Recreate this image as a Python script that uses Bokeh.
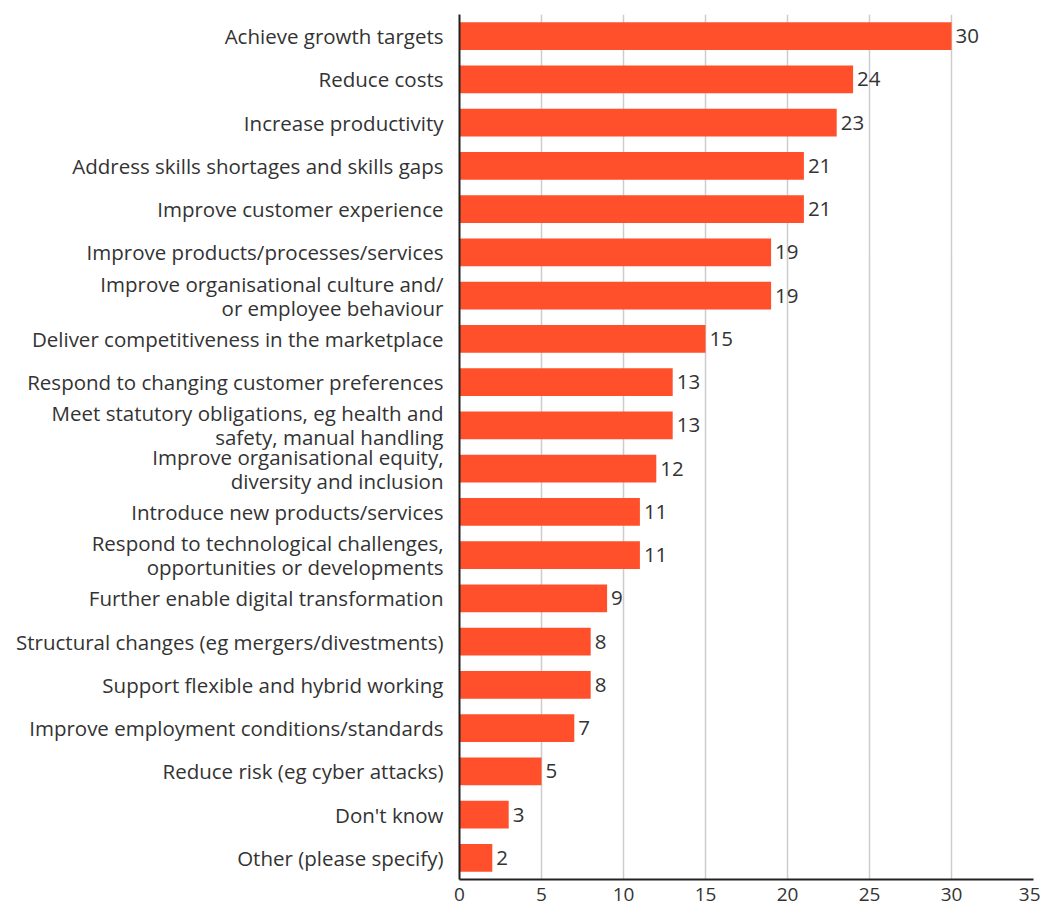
from bokeh.plotting import figure
from bokeh.models import FactorRange, ColumnDataSource, Range1d, FixedTicker
from bokeh.core.properties import value
from bokeh.embed import file_html
from bokeh.resources import INLINE

categories = [
    "Achieve growth targets",
    "Reduce costs",
    "Increase productivity",
    "Address skills shortages and skills gaps",
    "Improve customer experience",
    "Improve products/processes/services",
    "Improve organisational culture and/\nor employee behaviour",
    "Deliver competitiveness in the marketplace",
    "Respond to changing customer preferences",
    "Meet statutory obligations, eg health and\nsafety, manual handling",
    "Improve organisational equity,\ndiversity and inclusion",
    "Introduce new products/services",
    "Respond to technological challenges,\nopportunities or developments",
    "Further enable digital transformation",
    "Structural changes (eg mergers/divestments)",
    "Support flexible and hybrid working",
    "Improve employment conditions/standards",
    "Reduce risk (eg cyber attacks)",
    "Don't know",
    "Other (please specify)",
]
values = [30, 24, 23, 21, 21, 19, 19, 15, 13, 13, 12, 11, 11, 9, 8, 8, 7, 5, 3, 2]
x_ticks = [0, 5, 10, 15, 20, 25, 30, 35]

FONT = "Open Sans"
TEXT = "#333333"
BAR = "#FF4F2B"
FS = "20.5px"

src = ColumnDataSource(dict(cat=categories, val=values, lab=[str(v) for v in values]))

p = figure(
    width=1040, height=911,
    y_range=FactorRange(factors=list(reversed(categories))),
    x_range=Range1d(0, 35),
    output_backend="svg", toolbar_location=None,
    min_border_left=459, min_border_right=7, min_border_top=14, min_border_bottom=32,
)
p.outline_line_color = None
p.background_fill_color = "white"

p.hbar(y="cat", right="val", left=0, height=0.64, source=src, color=BAR, line_color=None)
p.text(x="val", y="cat", text="lab", source=src, x_offset=4, text_baseline="middle",
       text_align="left", text_font=value(FONT), text_font_size=FS, text_color=TEXT)

p.xaxis.ticker = FixedTicker(ticks=x_ticks)
p.xaxis.major_tick_line_color = None
p.xaxis.minor_tick_line_color = None
p.xaxis.axis_line_color = "#222222"
p.xaxis.axis_line_width = 2
p.xaxis.major_label_text_font = FONT
p.xaxis.major_label_text_font_size = "19px"
p.xaxis.major_label_text_color = TEXT
p.xaxis.major_label_standoff = 2

p.yaxis.major_tick_line_color = None
p.yaxis.minor_tick_line_color = None
p.yaxis.axis_line_color = "#222222"
p.yaxis.axis_line_width = 2
p.yaxis.major_label_text_font = FONT
p.yaxis.major_label_text_font_size = FS
p.yaxis.major_label_text_color = TEXT
p.yaxis.major_label_text_line_height = 0.85
p.yaxis.major_label_standoff = 10

p.ygrid.grid_line_color = None
p.xgrid.grid_line_color = "#cccccc"
p.xgrid.grid_line_width = 1.5
p.xgrid.ticker = FixedTicker(ticks=x_ticks)

open("out.html", "w").write(file_html(p, INLINE))
